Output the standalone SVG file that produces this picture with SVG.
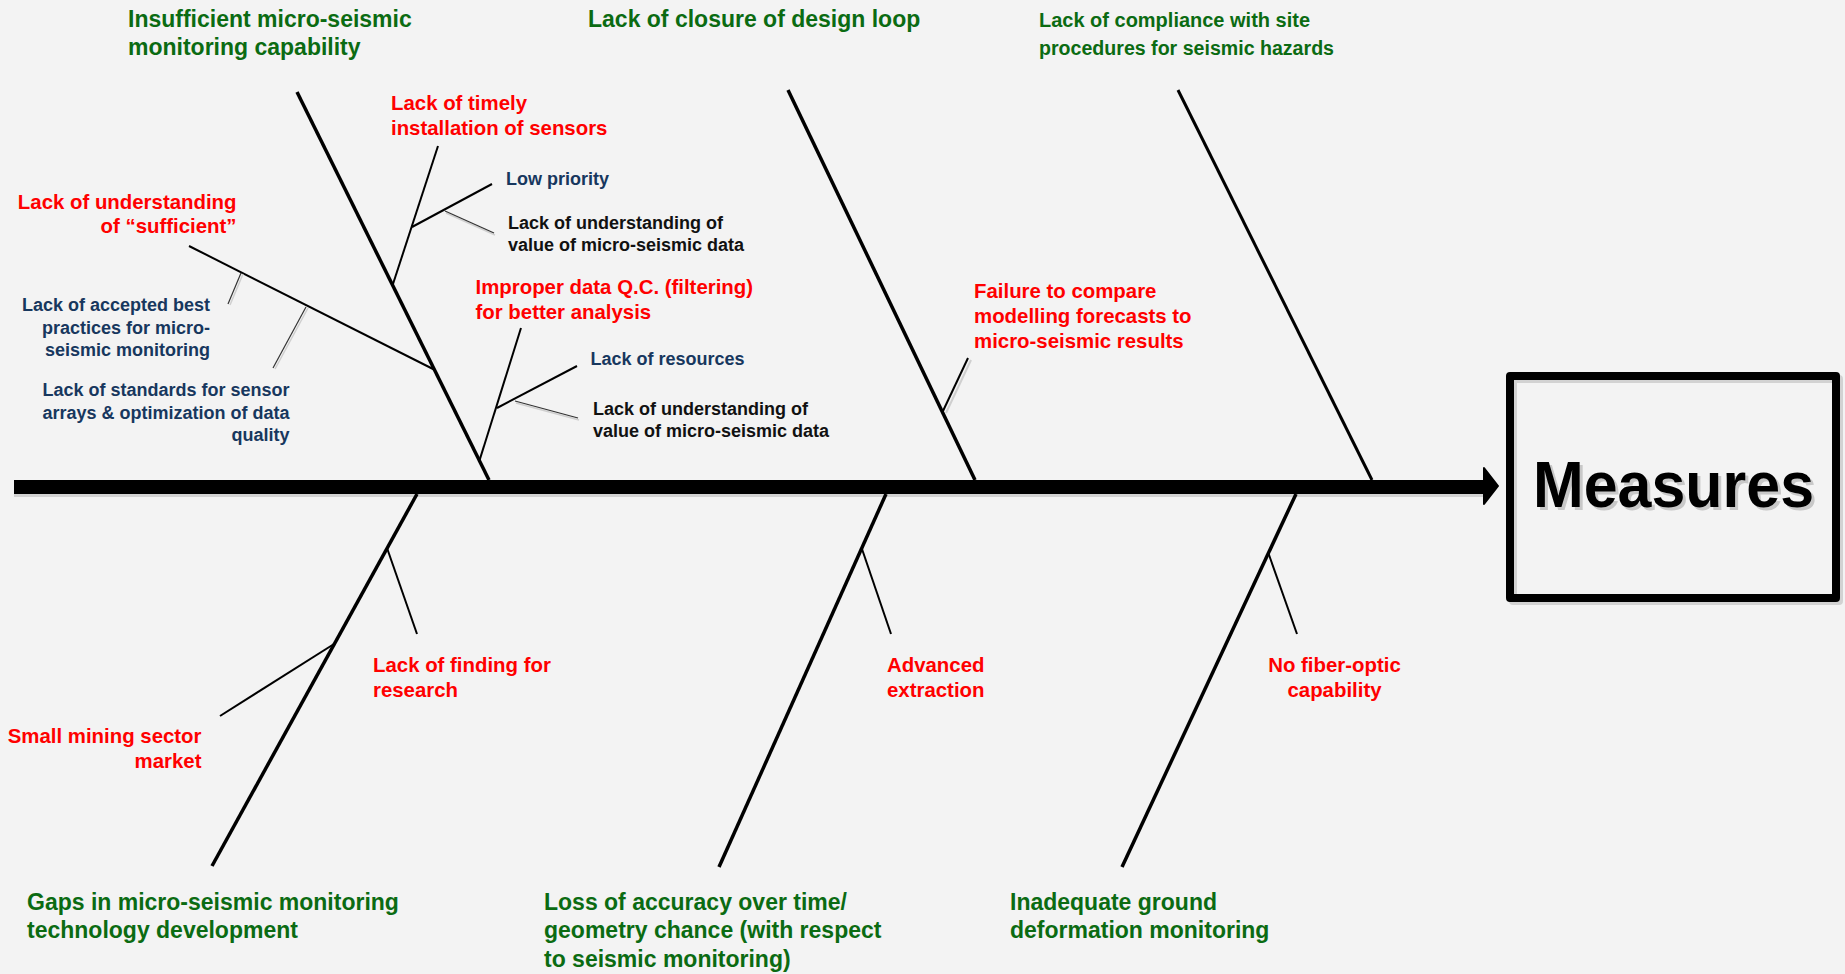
<svg xmlns="http://www.w3.org/2000/svg" width="1845" height="974" viewBox="0 0 1845 974">
<style>
text{font-family:"Liberation Sans",Arial,sans-serif;font-weight:bold}
.g{fill:#0b6b12;font-size:23px}
.gc{fill:#0b6b12;font-size:20px}
.r{fill:#ff0000;font-size:20.4px}
.n{fill:#17375e;font-size:18px}
.k{fill:#111111;font-size:18px}
.end{text-anchor:end}
.mid{text-anchor:middle}
.bone{stroke:#000;stroke-width:3.5;fill:none}
.br{stroke:#000;stroke-width:2;fill:none}
.thin{stroke:#333;stroke-width:1.2;fill:none}
.sh{stroke:#cfcfcf;fill:none}
</style>
<rect x="0" y="0" width="1845" height="974" fill="#f3f3f3"/>
<g id="connectors">
<line x1="14" y1="490" x2="1486" y2="490" stroke="#d2d2d2" stroke-width="14"/>
<line x1="14" y1="487" x2="1486" y2="487" stroke="#000" stroke-width="14"/>
<polygon points="1484,468 1498,486 1484,504" fill="#000" stroke="#000" stroke-width="2" stroke-linejoin="round"/>
<line class="bone" x1="297" y1="92" x2="489" y2="480"/>
<line class="bone" x1="788" y1="90" x2="975" y2="480"/>
<line class="bone" x1="1178" y1="90" x2="1372" y2="480" style="stroke-width:3"/>
<line class="bone" x1="417" y1="494" x2="212" y2="866"/>
<line class="bone" x1="886" y1="494" x2="719" y2="867"/>
<line class="bone" x1="1296" y1="494" x2="1122" y2="867"/>
<line class="br" x1="438" y1="146" x2="393" y2="284"/>
<line class="br" x1="412" y1="227" x2="492" y2="184"/>
<line class="br" x1="189" y1="246" x2="435" y2="370"/>
<line class="br" x1="521" y1="328" x2="479" y2="462"/>
<line class="br" x1="497" y1="408" x2="577" y2="366"/>
<line class="sh" stroke-width="2" x1="971" y1="360" x2="946" y2="413"/>
<line class="br" x1="968" y1="358" x2="943" y2="411"/>
<line class="br" x1="387" y1="548" x2="417" y2="634"/>
<line class="br" x1="334" y1="644" x2="220" y2="716"/>
<line class="br" x1="862" y1="549" x2="891" y2="634"/>
<line class="br" x1="1268" y1="552" x2="1297" y2="634"/>
<line class="sh" stroke-width="1.5" x1="446" y1="213" x2="495" y2="235"/>
<line class="thin" x1="445" y1="211" x2="494" y2="233"/>
<line class="sh" stroke-width="1.5" x1="243" y1="274" x2="230" y2="305"/>
<line class="thin" x1="241" y1="273" x2="228" y2="304"/>
<line class="sh" stroke-width="1.5" x1="308" y1="308" x2="275" y2="369"/>
<line class="thin" x1="306" y1="307" x2="273" y2="368"/>
<line class="sh" stroke-width="1.5" x1="516" y1="403" x2="579" y2="420"/>
<line class="thin" x1="515" y1="401" x2="578" y2="418"/>
</g>
<g id="head">
<rect x="1513" y="379" width="326" height="222" fill="none" stroke="#d2d2d2" stroke-width="8" stroke-linejoin="round"/>
<rect x="1510" y="376" width="326" height="222" fill="none" stroke="#000" stroke-width="8" stroke-linejoin="round"/>
<text x="1536" y="510" font-size="64" fill="#c8c8c8" textLength="281" lengthAdjust="spacingAndGlyphs">Measures</text>
<text x="1533" y="507" font-size="64" fill="#000" textLength="281" lengthAdjust="spacingAndGlyphs">Measures</text>
</g>
<g id="cat-monitoring-capability">
<text class="g" x="128" y="27">Insufficient micro-seismic</text>
<text class="g" x="128" y="55">monitoring capability</text>
</g>
<g id="cat-design-loop">
<text class="g" x="588" y="27">Lack of closure of design loop</text>
</g>
<g id="cat-compliance">
<text class="gc" x="1039" y="27" textLength="271" lengthAdjust="spacingAndGlyphs">Lack of compliance with site</text>
<text class="gc" x="1039" y="55" textLength="295" lengthAdjust="spacingAndGlyphs">procedures for seismic hazards</text>
</g>
<g id="cat-gaps">
<text class="g" x="27" y="910">Gaps in micro-seismic monitoring</text>
<text class="g" x="27" y="938">technology development</text>
</g>
<g id="cat-accuracy">
<text class="g" x="544" y="910">Loss of accuracy over time/</text>
<text class="g" x="544" y="938">geometry chance (with respect</text>
<text class="g" x="544" y="967">to seismic monitoring)</text>
</g>
<g id="cat-ground">
<text class="g" x="1010" y="910">Inadequate ground</text>
<text class="g" x="1010" y="938">deformation monitoring</text>
</g>
<g id="cause-timely">
<text class="r" x="391" y="110">Lack of timely</text>
<text class="r" x="391" y="135">installation of sensors</text>
</g>
<g id="cause-low-priority">
<text class="n" x="506" y="185">Low priority</text>
</g>
<g id="cause-value-1">
<text class="k" x="508" y="229">Lack of understanding of</text>
<text class="k" x="508" y="250.5">value of micro-seismic data</text>
</g>
<g id="cause-sufficient">
<text class="r end" x="236.5" y="208.5">Lack of understanding</text>
<text class="r end" x="236.5" y="232.5">of “sufficient”</text>
</g>
<g id="cause-best-practices">
<text class="n end" x="210" y="311">Lack of accepted best</text>
<text class="n end" x="210" y="333.5">practices for micro-</text>
<text class="n end" x="210" y="356">seismic monitoring</text>
</g>
<g id="cause-standards">
<text class="n end" x="289.5" y="396">Lack of standards for sensor</text>
<text class="n end" x="289.5" y="418.5">arrays &amp; optimization of data</text>
<text class="n end" x="289.5" y="441">quality</text>
</g>
<g id="cause-qc">
<text class="r" x="475.5" y="293.5">Improper data Q.C. (filtering)</text>
<text class="r" x="475.5" y="319">for better analysis</text>
</g>
<g id="cause-resources">
<text class="n" x="590.5" y="365">Lack of resources</text>
</g>
<g id="cause-value-2">
<text class="k" x="593" y="414.5">Lack of understanding of</text>
<text class="k" x="593" y="436.5">value of micro-seismic data</text>
</g>
<g id="cause-forecasts">
<text class="r" x="974" y="298">Failure to compare</text>
<text class="r" x="974" y="323">modelling forecasts to</text>
<text class="r" x="974" y="348">micro-seismic results</text>
</g>
<g id="cause-funding">
<text class="r" x="373" y="671.5">Lack of finding for</text>
<text class="r" x="373" y="696.5">research</text>
</g>
<g id="cause-market">
<text class="r end" x="201.5" y="743">Small mining sector</text>
<text class="r end" x="201.5" y="768">market</text>
</g>
<g id="cause-extraction">
<text class="r" x="887" y="671.5">Advanced</text>
<text class="r" x="887" y="696.5">extraction</text>
</g>
<g id="cause-fiber">
<text class="r mid" x="1334.5" y="671.5">No fiber-optic</text>
<text class="r mid" x="1334.5" y="696.5">capability</text>
</g>
</svg>
